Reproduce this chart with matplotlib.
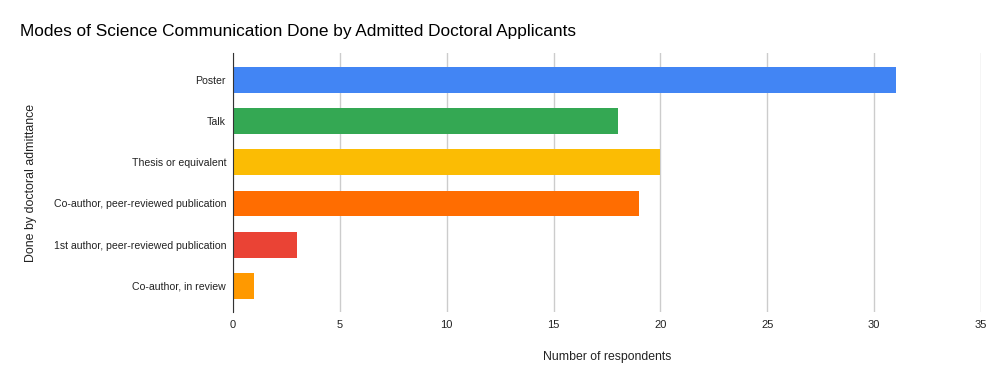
import matplotlib
matplotlib.use("Agg")
import matplotlib.pyplot as plt

plt.rcParams['font.family'] = ['Liberation Sans', 'DejaVu Sans']

categories = ["Poster", "Talk", "Thesis or equivalent",
              "Co-author, peer-reviewed publication",
              "1st author, peer-reviewed publication",
              "Co-author, in review"]
counts = [31, 18, 20, 19, 3, 1]
colors = ["#4285F4", "#34A853", "#FBBC04", "#FF6D01", "#EA4335", "#FF9900"]
xticks = [0, 5, 10, 15, 20, 25, 30, 35]

fig = plt.figure(figsize=(10, 3.82), dpi=100)
ax = fig.add_axes([0.233, 0.183, 0.748, 0.678])

ypos = list(range(len(categories)))
ax.barh(ypos, counts, height=0.63, color=colors, zorder=3)

ax.set_yticks(ypos)
ax.set_yticklabels(categories, fontsize=7.6, color="#222222")
ax.tick_params(axis="y", length=0, pad=5)
ax.set_ylim(5.64, -0.655)
ax.set_xlim(0, 35)
ax.set_xticks(xticks)
ax.set_xticklabels([str(t) for t in xticks], fontsize=8, color="#222222")
ax.tick_params(axis="x", length=0, pad=6)

ax.grid(axis="x", color="#cccccc", linewidth=1, zorder=0)
for s in ["top", "right", "bottom"]:
    ax.spines[s].set_visible(False)
ax.spines["left"].set_color("#333333")
ax.spines["left"].set_zorder(4)

ax.set_xlabel("Number of respondents", fontsize=8.8, color="#222222", labelpad=15)
ax.set_ylabel("Done by doctoral admittance", fontsize=8.9, color="#222222")
ax.yaxis.set_label_coords(-0.262, 0.5)

fig.text(0.02, 0.918, "Modes of Science Communication Done by Admitted Doctoral Applicants",
         fontsize=12.4, color="#000000", ha="left", va="center")

fig.savefig("out.png")
